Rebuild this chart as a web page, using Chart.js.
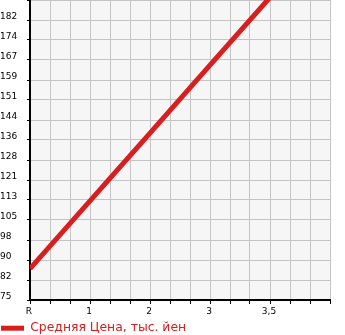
<!DOCTYPE html>
<html><head><meta charset="utf-8">
<script src="https://cdn.jsdelivr.net/npm/chart.js@4/dist/chart.umd.min.js"></script>
<style>html,body{margin:0;padding:0;background:#fff;overflow:hidden}</style>
</head><body>
<canvas id="c" width="345" height="335" style="display:block;width:345px;height:335px"></canvas>
<script>
const categories = ['R', '1', '2', '3', '3,5'];
const categoryX = [0, 3, 6, 9, 12];
const priceValues = [87, 113, 139, 165, 191];
const xTickLabels = ['R', '', '', '1', '', '', '2', '', '', '3', '', '', '3,5', '', '', ''];
const yTickLabels = ['75', '82', '90', '98', '105', '113', '121', '128', '136', '144', '151', '159', '167', '174', '182', ''];
const yMin = 75, yMax = 190;
const seriesLabel = 'Средняя Цена, тыс. йен';

const tickFont = { family: 'DejaVu Sans', size: 9 };

const bgPlugin = {
  id: 'plotBg',
  afterInit(chart) {
    const lg = chart.legend;
    if (lg) {
      const orig = lg.fit;
      lg.fit = function () { orig.call(this); this.height = 14; };
    }
  },
  beforeDraw(chart) {
    const { ctx, chartArea: a } = chart;
    ctx.save();
    ctx.fillStyle = '#f6f6f6';
    ctx.fillRect(a.left, a.top, a.right - a.left, a.bottom - a.top);
    ctx.restore();
  }
};

new Chart(document.getElementById('c'), {
  type: 'line',
  data: {
    datasets: [{
      label: seriesLabel,
      data: categories.map((c, i) => ({ x: categoryX[i], y: priceValues[i] })),
      borderColor: '#d81e1e',
      backgroundColor: '#d81e1e',
      borderWidth: 5,
      pointRadius: 0,
      tension: 0,
      fill: false
    }]
  },
  options: {
    responsive: false,
    animation: false,
    layout: { padding: { left: 0, right: 15, top: 0, bottom: 0 } },
    scales: {
      x: {
        type: 'linear', min: 0, max: xTickLabels.length - 1,
        afterBuildTicks: s => { s.ticks = xTickLabels.map((_, i) => ({ value: i })); },
        afterFit: s => { s.height = 21; s.paddingLeft = 0; s.paddingRight = 0; },
        ticks: { autoSkip: false, maxRotation: 0, callback: (v, i) => xTickLabels[i], font: tickFont, color: '#000', padding: 2, labelOffset: -1 },
        grid: { color: '#c4c4c4', tickColor: '#000', tickLength: 4, lineWidth: 1 },
        border: { color: '#000', width: 2 }
      },
      y: {
        type: 'linear', min: yMin, max: yMax,
        afterBuildTicks: s => { s.ticks = yTickLabels.map((_, i) => ({ value: yMin + i * (yMax - yMin) / (yTickLabels.length - 1) })); },
        afterFit: s => { s.width = 30; s.paddingTop = 0; s.paddingBottom = 0; },
        ticks: { autoSkip: false, callback: (v, i) => yTickLabels[i], font: tickFont, color: '#000', crossAlign: 'far', labelOffset: -3 },
        grid: { color: '#c4c4c4', tickColor: '#000', tickLength: 3, lineWidth: 1 },
        border: { color: '#000', width: 2 }
      }
    },
    plugins: {
      tooltip: { enabled: false },
      legend: {
        position: 'bottom', align: 'start',
        labels: {
          boxWidth: 23, boxHeight: 5, padding: 1, color: '#d42020',
          font: { family: 'DejaVu Sans', size: 12.4 },
          generateLabels: () => [{ text: seriesLabel, fillStyle: '#d81e1e', strokeStyle: '#d81e1e', lineWidth: 0, hidden: false, datasetIndex: 0, fontColor: '#d42020' }]
        }
      }
    }
  },
  plugins: [bgPlugin]
});
</script>
</body></html>
